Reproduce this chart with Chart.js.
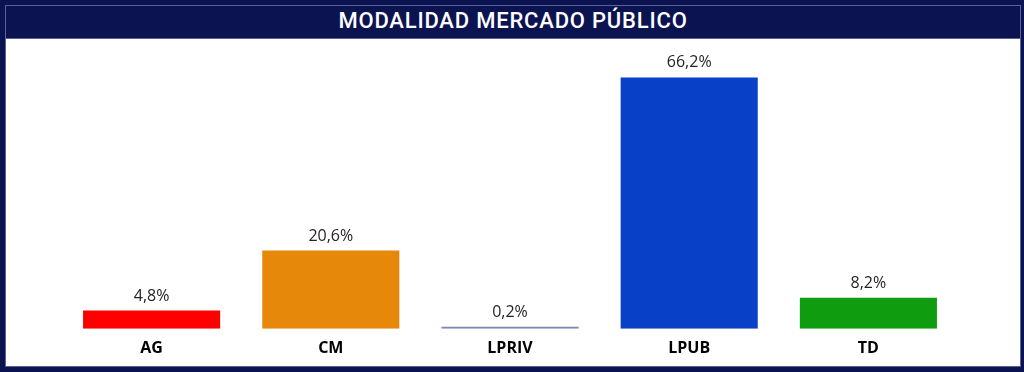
<!DOCTYPE html>
<html>
<head>
<meta charset="utf-8">
<script src="https://cdn.jsdelivr.net/npm/chart.js@4"></script>
<style>
  html, body { margin: 0; padding: 0; }
  body { width: 1024px; height: 372px; background: #0b1350; position: relative; overflow: hidden; }
  #frame { position: absolute; left: 5px; top: 5px; width: 1014px; height: 360px; border: 1px solid #5a6298; }
  #title { position: absolute; left: 0; top: 0; width: 1014px; height: 32px; border-bottom: 1px solid #5a6298;
           color: #fff; font-family: Roboto, sans-serif; font-weight: 500; font-size: 22px; letter-spacing: 0.8px;
           text-align: center; line-height: 30px; }
  #plot { position: absolute; left: 0; top: 33px; width: 1014px; height: 327px; background: #fff; }
  canvas { display: block; }
</style>
</head>
<body>
<div id="frame">
  <div id="title">MODALIDAD MERCADO PÚBLICO</div>
  <div id="plot"><canvas id="chart" width="1014" height="327"></canvas></div>
</div>
<script>
// categories and values (percent)
const categories = ['AG', 'CM', 'LPRIV', 'LPUB', 'TD'];
const shares = [4.8, 20.6, 0.2, 66.2, 8.2];
const barColors = ['#ff0000', '#e6890a', '#7b87b4', '#0841c8', '#0f9c0f'];

// draws "4,8%" style labels above each bar
const valueLabels = {
  id: 'valueLabels',
  afterDatasetsDraw(chart) {
    const ctx = chart.ctx;
    const meta = chart.getDatasetMeta(0);
    ctx.save();
    ctx.font = '16px "Open Sans", sans-serif';
    ctx.fillStyle = '#252423';
    ctx.textAlign = 'center';
    ctx.textBaseline = 'alphabetic';
    meta.data.forEach((bar, i) => {
      const txt = shares[i].toFixed(1).replace('.', ',') + '%';
      ctx.fillText(txt, bar.x, bar.y - 10);
    });
    ctx.restore();
  }
};

new Chart(document.getElementById('chart'), {
  type: 'bar',
  data: {
    labels: categories,
    datasets: [{
      data: shares,
      backgroundColor: barColors,
      borderWidth: 0,
      minBarLength: 2,
      categoryPercentage: 1,
      barPercentage: 0.765
    }]
  },
  options: {
    responsive: false,
    animation: false,
    layout: { padding: { left: 56, right: 62, top: 24, bottom: 6 } },
    scales: {
      x: {
        grid: { display: false },
        border: { display: false },
        ticks: {
          color: '#000',
          padding: 2,
          font: { family: '"Open Sans", sans-serif', size: 16, weight: 'bold' }
        }
      },
      y: { display: false, min: 0, max: 70 }
    },
    plugins: {
      legend: { display: false },
      tooltip: { enabled: false }
    }
  },
  plugins: [valueLabels]
});
</script>
</body>
</html>
